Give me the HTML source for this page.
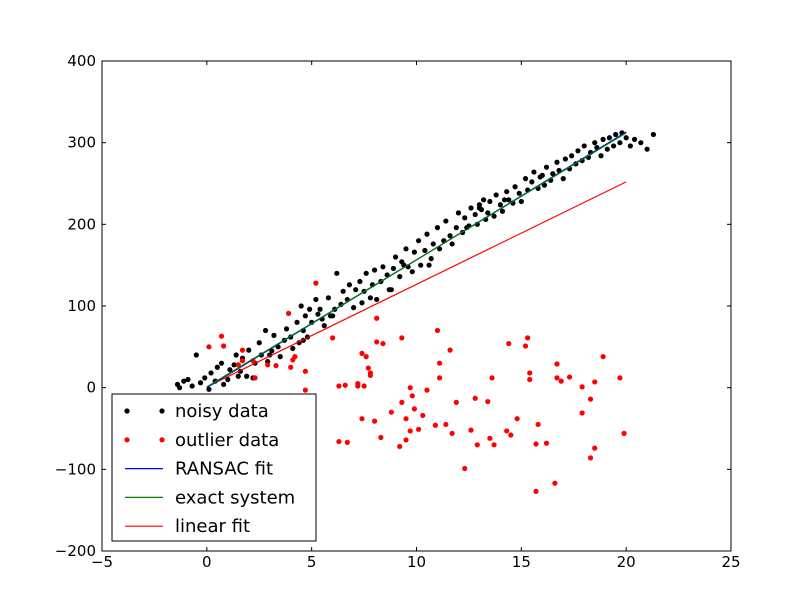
<!DOCTYPE html>
<html><head><meta charset="utf-8"><style>
body{margin:0;background:#fff;}
svg{display:block;font-family:"DejaVu Sans","Liberation Sans",sans-serif;}
</style></head><body>
<svg id="chart" width="812" height="612" viewBox="0 0 812 612">
<rect x="0" y="0" width="812" height="612" fill="#fff"/>
<g id="plot"></g>
</svg>
<script>
const xTicks=[-5,0,5,10,15,20,25];
const yTicks=[-200,-100,0,100,200,300,400];
const noisyX=[-1.4,-1.3,-1.1,-0.9,-0.7,-0.5,-0.3,-0.1,0.1,0.2,0.4,0.5,0.7,0.8,1.0,1.1,1.3,1.4,1.6,1.7,1.9,2.0,2.2,2.3,2.5,2.6,2.8,2.9,3.1,3.2,3.4,3.5,3.7,3.8,4.0,4.1,4.3,4.4,4.5,4.6,4.7,4.8,4.9,5.0,5.2,5.3,5.5,5.6,5.8,5.9,6.1,6.2,6.4,6.5,6.7,6.8,7.0,7.1,7.3,7.4,7.5,7.6,7.8,7.9,8.0,8.1,8.3,8.4,8.6,8.7,8.9,9.0,9.2,9.3,9.5,9.6,9.8,9.9,10.1,10.2,10.4,10.5,10.7,10.8,11.0,11.1,11.3,11.4,11.6,11.7,11.9,12.0,12.2,12.3,12.5,12.6,12.8,12.9,13.0,13.1,13.2,13.3,13.4,13.5,13.7,13.8,14.0,14.1,14.3,14.4,14.6,14.7,14.9,15.0,15.2,15.3,15.5,15.6,15.8,15.9,16.1,16.2,16.4,16.5,16.7,16.8,17.0,17.1,17.3,17.4,17.6,17.7,17.9,18.0,18.2,18.3,18.5,18.6,18.8,18.9,19.1,19.2,19.4,19.5,19.7,19.8,20.0,20.2,20.4,20.7,21.0,21.3,3.0,4.6,6.0,8.8,10.6,12.4,14.2,16.0,1.5,5.4,9.4,13.0];
const noisyY=[4,0,8,10,2,40,6,12,-2,18,8,25,30,4,10,22,28,40,20,36,14,46,12,30,55,40,70,32,45,64,50,38,58,72,62,48,80,55,100,70,88,62,96,80,108,90,84,76,110,88,96,140,102,118,108,126,98,120,130,104,118,140,110,126,144,108,130,148,138,120,146,160,136,154,170,148,142,166,180,150,168,188,158,176,196,170,180,204,186,176,196,214,190,208,198,220,212,200,224,218,230,206,214,228,210,236,224,216,240,230,226,246,238,228,256,242,252,264,244,258,248,270,254,262,276,266,256,280,268,284,274,290,278,296,282,288,300,294,284,304,292,306,296,310,300,312,306,296,304,300,292,310,40,58,88,120,150,196,230,260,14,96,150,220];
const outX=[11.0,8.1,8.1,8.4,9.3,6.0,7.4,7.6,7.7,7.8,7.8,6.3,6.6,7.2,7.2,7.5,4.7,4.7,4.0,4.1,4.2,3.9,11.6,11.1,11.1,10.5,9.7,9.8,9.9,10.3,9.3,8.8,9.5,9.7,10.1,9.5,9.2,8.3,8.0,7.4,6.3,6.7,10.9,11.4,11.7,12.3,11.9,12.8,13.4,13.6,12.6,12.9,13.5,13.7,14.4,15.2,15.3,15.4,15.4,14.8,14.3,14.5,15.8,15.7,16.2,15.7,16.6,16.7,16.7,16.9,17.3,17.9,17.9,18.3,18.5,18.9,19.7,19.9,18.5,18.3,5.2,0.7,0.1,0.8,1.7,1.5,1.7,2.2,2.9,3.3,2.3];
const outY=[70,85,56,54,61,61,42,38,24,18,15,2,3,5,2,2,20,-3,25,34,38,91,46,30,12,-3,0,-10,-26,-34,-18,-30,-38,-53,-51,-64,-72,-61,-41,-38,-66,-67,-46,-45,-56,-99,-18,-13,-17,12,-52,-70,-62,-70,54,51,61,18,10,-38,-53,-58,-45,-69,-68,-127,-117,29,12,8,13,1,-31,-14,7,38,12,-56,-74,-86,128,63,50,51,46,28,33,33,28,27,12];
const ransacX=[0,20];
const ransacY=[0,313];
const exactY=[1,312];
const linearY=[1,252];

const NS="http://www.w3.org/2000/svg";
const L=102,R=731,T=61,B=551;
const sx=v=>L+(v-(-5))/30*(R-L);
const sy=v=>B-(v-(-200))/600*(B-T);
const g=document.getElementById('plot');
function mk(tag,attrs,parent){const e=document.createElementNS(NS,tag);for(const k in attrs)e.setAttribute(k,attrs[k]);(parent||g).appendChild(e);return e;}

const pts=mk('g',{});


noisyX.forEach((x,i)=>{const c=mk('circle',{cx:sx(x),cy:sy(noisyY[i]),r:2.6,fill:'#000'},pts);

});
const opts=mk('g',{});


outX.forEach((x,i)=>{const c=mk('circle',{cx:sx(x),cy:sy(outY[i]),r:2.6,fill:'#f00'},opts);

});

function line(ys,col,name){const l=mk('line',{x1:sx(ransacX[0]),y1:sy(ys[0]),x2:sx(ransacX[1]),y2:sy(ys[1]),stroke:col,'stroke-width':1.2});

}
line(linearY,'#f00','linear-fit-line');
line(ransacY,'#00f','ransac-fit-line');
line(exactY,'#008000','exact-system-line');

const fr=mk('rect',{x:L,y:T,width:R-L,height:B-T,fill:'none',stroke:'#000','stroke-width':1});



xTicks.forEach(v=>{const x=sx(v);
mk('line',{x1:x,y1:B,x2:x,y2:B-4,stroke:'#000'});mk('line',{x1:x,y1:T,x2:x,y2:T+4,stroke:'#000'});
const t=mk('text',{x:x,y:B+16,'text-anchor':'middle','font-size':15});t.textContent=String(v).replace('-','\u2212');

});
yTicks.forEach(v=>{const y=sy(v);
mk('line',{x1:L,y1:y,x2:L+4,y2:y,stroke:'#000'});mk('line',{x1:R,y1:y,x2:R-4,y2:y,stroke:'#000'});
const t=mk('text',{x:L-6,y:y+5,'text-anchor':'end','font-size':15});t.textContent=String(v).replace('-','\u2212');

});

const lg=mk('g',{});


mk('rect',{x:112,y:394,width:204,height:147,fill:'#fff',stroke:'#000'},lg);
const entries=[['noisy data','#000','dot'],['outlier data','#f00','dot'],['RANSAC fit','#00f','line'],['exact system','#008000','line'],['linear fit','#f00','line']];
entries.forEach((e,i)=>{const y=411+i*28.8;
const eg=mk('g',{},lg);


if(e[2]==='dot'){mk('circle',{cx:127,cy:y,r:2.6,fill:e[1]},eg);mk('circle',{cx:162,cy:y,r:2.6,fill:e[1]},eg);}
else mk('line',{x1:125,y1:y,x2:163,y2:y,stroke:e[1],'stroke-width':1.2},eg);
const t=mk('text',{x:175,y:y+6,'font-size':18},eg);t.textContent=e[0];});
</script>
</body></html>
